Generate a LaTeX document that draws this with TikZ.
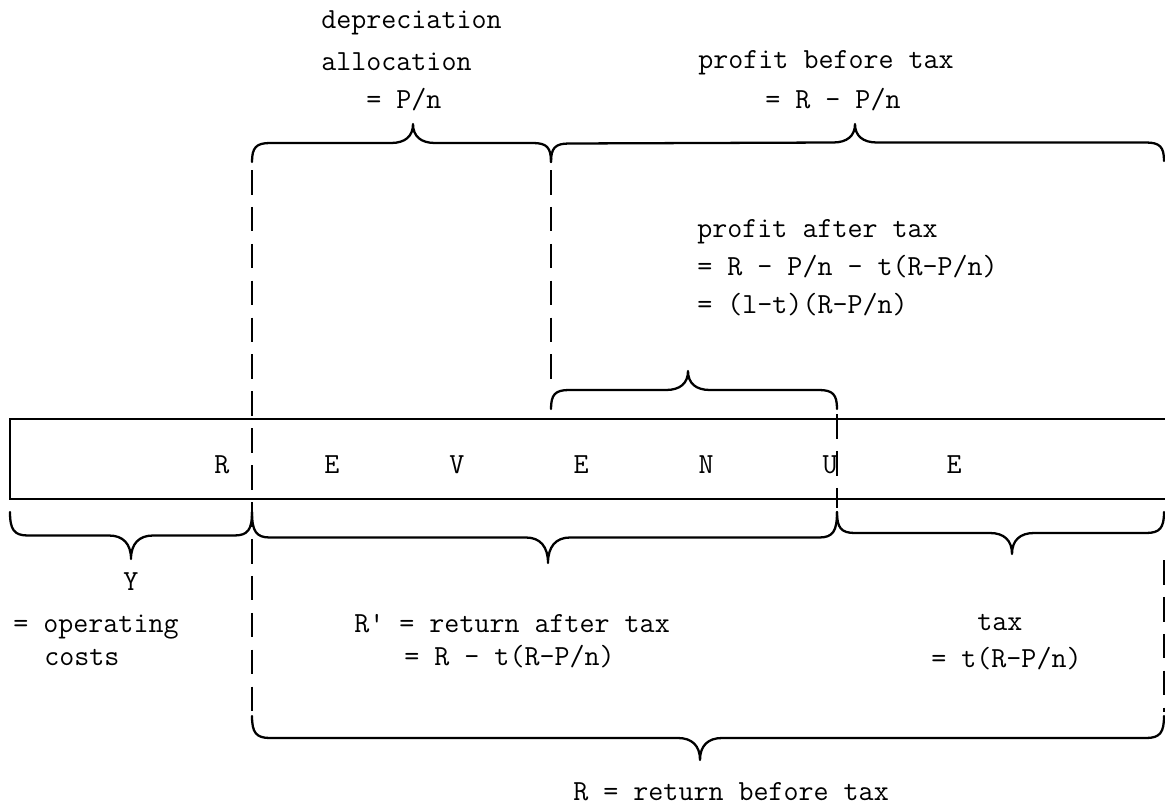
\documentclass[tikz,border=0pt]{standalone}
\usepackage{fontspec}
\setmonofont{Latin Modern Mono}
\usetikzlibrary{calc}
\newcommand\mybrace[4]{% #1 start, #2 tip base, #3 end, #4 half height (signed)
  \draw[brc] (#1) .. controls ($(#1)+(0,0.75*#4)$) and ($(#1)+(4,#4)$) .. ($(#1)+(18,#4)$)
    -- ($(#2)+(-22,#4)$) .. controls ($(#2)+(-8,#4)$) and ($(#2)+(0,1.35*#4)$) .. ($(#2)+(0,2*#4)$)
    .. controls ($(#2)+(0,1.35*#4)$) and ($(#2)+(8,#4)$) .. ($(#2)+(22,#4)$)
    -- ($(#3)+(-18,#4)$) .. controls ($(#3)+(-4,#4)$) and ($(#3)+(0,0.75*#4)$) .. (#3);}
\begin{document}
\begin{tikzpicture}[x=0.02cm,y=-0.02cm,
  lbl/.style={font=\ttfamily\fontsize{16.6}{20}\selectfont, inner sep=0pt, anchor=base west},
  letter/.style={font=\ttfamily\fontsize{16.6}{20}\selectfont, inner sep=0pt, anchor=base},
  bar/.style={line width=1.2pt},
  brc/.style={line width=1.3pt, line join=round, line cap=round},
  dashline/.style={line width=1.2pt, dash pattern=on 14pt off 7pt}
]
\useasboundingbox (0,0) rectangle (1165,805);

% revenue bar
\coordinate (rtr) at (1165,419);
\coordinate (rtl) at (10,419);
\coordinate (rbl) at (10,499);
\coordinate (rbr) at (1165,499);
\draw[bar] (rtr) -- (rtl) -- (rbl) -- (rbr);

\node[letter] (l1) at (222,473) {R};
\node[letter] (l2) at (332,473) {E};
\node[letter] (l3) at (457,473) {V};
\node[letter] (l4) at (581,473) {E};
\node[letter] (l5) at (706,473) {N};
\node[letter] (l6) at (830,473) {U};
\node[letter] (l7) at (954,473) {E};

% brace end points and tips
\coordinate (ta) at (252,162);
\coordinate (tb) at (551,162);
\coordinate (tc) at (1164,161);
\coordinate (tt1) at (413,162);
\coordinate (tt2) at (855,161);
\coordinate (sa) at (551,409);
\coordinate (sb) at (837,409);
\coordinate (st) at (688,409);
\coordinate (ba) at (10,512);
\coordinate (bb) at (252,512);
\coordinate (bc) at (837,512);
\coordinate (bd) at (1164,512);
\coordinate (bt1) at (131,512);
\coordinate (bt2) at (548,512);
\coordinate (bt3) at (1012,512);
\coordinate (ga) at (252,716);
\coordinate (gb) at (1164,716);
\coordinate (gt) at (700,716);

% top braces
\mybrace{ta}{tt1}{tb}{-19}
\mybrace{tb}{tt2}{tc}{-18.5}
\mybrace{sa}{st}{sb}{-19}
% bottom braces
\mybrace{ba}{bt1}{bb}{23.5}
\mybrace{bb}{bt2}{bc}{25.5}
\mybrace{bc}{bt3}{bd}{21}
\mybrace{ga}{gt}{gb}{22}

% dashed lines
\coordinate (d1a) at (252,170);
\coordinate (d1b) at (252,712);
\coordinate (d2a) at (551,170);
\coordinate (d2b) at (551,385);
\coordinate (d3a) at (837,414);
\coordinate (d3b) at (837,508);
\coordinate (d4a) at (1164,560);
\coordinate (d4b) at (1164,712);
\draw[dashline] (d1a) -- (d1b);
\draw[dashline] (d2a) -- (d2b);
\draw[dashline] (d3a) -- (d3b);
\draw[dashline] (d4a) -- (d4b);

% labels
\node[lbl] (dep) at (321,28) {depreciation};
\node[lbl] (alloc) at (321,70) {allocation};
\node[lbl] (pn) at (366,108) {= P/n};
\node[lbl] (pbt) at (698,68) {profit before tax};
\node[lbl] (pbt2) at (765,108) {= R - P/n};
\node[lbl] (pat) at (697,237) {profit after tax};
\node[lbl] (pat2) at (697,275) {= R - P/n - t(R-P/n)};
\node[lbl] (pat3) at (697,313) {= (l-t)(R-P/n)};
\node[letter] (y) at (131,590) {Y};
\node[lbl] (op) at (13,632) {= operating};
\node[lbl] (costs) at (44,665) {costs};
\node[lbl] (rp) at (354,632) {R\textquotesingle{} = return after tax};
\node[lbl] (rp2) at (404,665) {= R - t(R-P/n)};
\node[lbl] (tax) at (977,630) {tax};
\node[lbl] (tax2) at (931,667) {= t(R-P/n)};
\node[lbl] (rbt) at (573,800) {R = return before tax};
\end{tikzpicture}
\end{document}
